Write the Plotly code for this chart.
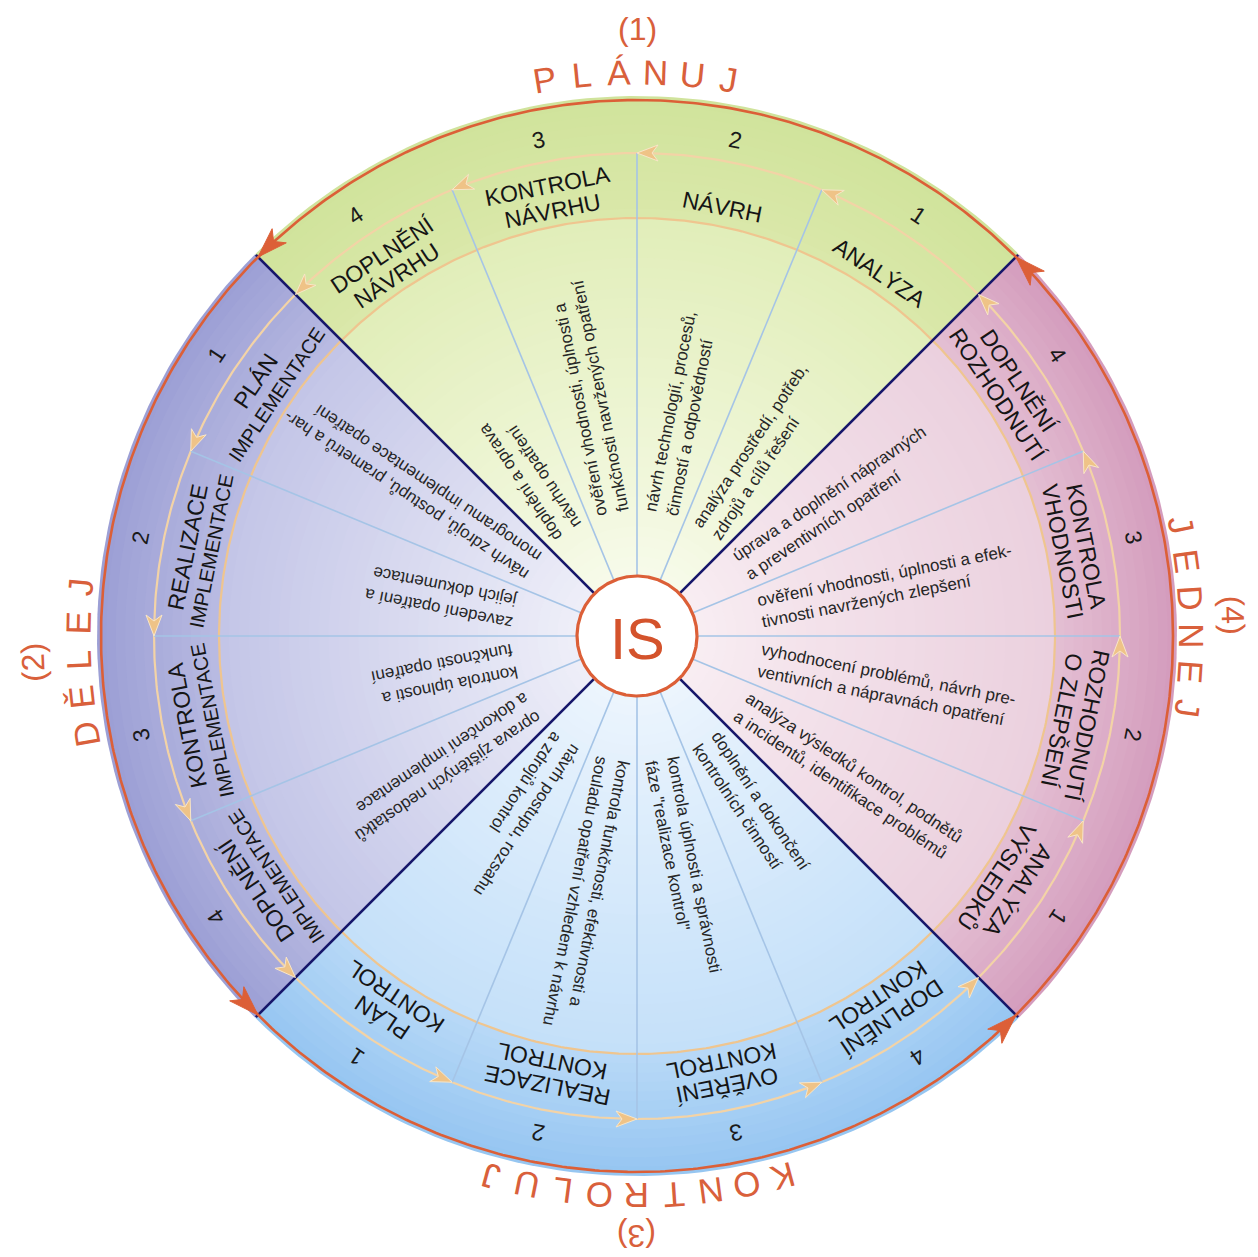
import numpy as np
import plotly.graph_objects as go

# ---------------- data ----------------
phase_names = ["PLÁNUJ", "DĚLEJ", "KONTROLUJ", "JEDNEJ"]
phase_numbers = ["(1)", "(2)", "(3)", "(4)"]
step_numbers = ["1", "2", "3", "4"]
center_label = "IS"

plan_steps = [["ANALÝZA"], ["NÁVRH"], ["KONTROLA", "NÁVRHU"], ["DOPLNĚNÍ", "NÁVRHU"]]
do_steps = [["PLÁN", "IMPLEMENTACE"], ["REALIZACE", "IMPLEMENTACE"],
            ["KONTROLA", "IMPLEMENTACE"], ["DOPLNĚNÍ", "IMPLEMENTACE"]]
check_steps = [["PLÁN", "KONTROL"], ["REALIZACE", "KONTROL"],
               ["OVĚŘENÍ", "KONTROL"], ["DOPLNĚNÍ", "KONTROL"]]
act_steps = [["ANALÝZA", "VÝSLEDKŮ"], ["ROZHODNUTÍ", "O ZLEPŠENÍ"],
             ["KONTROLA", "VHODNOSTI"], ["DOPLNĚNÍ", "ROZHODNUTÍ"]]

plan_desc = [["analýza prostředí, potřeb,", "zdrojů a cílů řešení"],
             ["návrh technologií, procesů,", "činností a odpovědností"],
             ["ověření vhodnosti, úplnosti a", "funkčnosti navržených opatření"],
             ["doplnění a oprava", "návrhu opatření"]]
do_desc = [["návrh zdrojů, postupů, prametrů a har-", "monogramu implementace opatření"],
           ["zavedení opatření a", "jejich dokumentace"],
           ["kontrola úplnosti a", "funkčnosti opatření"],
           ["oprava zjištěných nedostatků", "a dokončení implementace"]]
check_desc = [["návrh postupu, rozsahu", "a zdrojů kontrol"],
              ["kontrola funkčnosti, efektivnosti a", "souladu opatření vzhledem k návrhu"],
              ["kontrola úplnosti a správnosti", "fáze \"realizace kontrol\""],
              ["doplnění a dokončení", "kontrolních činností"]]
act_desc = [["analýza výsledků kontrol, podnětů", "a incidentů, identifikace problémů"],
            ["vyhodnocení problémů, návrh pre-", "ventivních a nápravnách opatření"],
            ["ověření vhodnosti, úplnosti a efek-", "tivnosti navržených zlepšení"],
            ["úprava a doplnění nápravných", "a preventivních opatření"]]

steps = [plan_steps, do_steps, check_steps, act_steps]
descs = [plan_desc, do_desc, check_desc, act_desc]

# ---------------- geometry / style ----------------
W, H = 1258, 1257
CX, CY = 637, 636
R_OUT, R_ARROW, R_INNER, R_IS = 536, 483, 418, 60
R_NUM = 506
R_STEP1, R_STEP2 = 437, 446
R_DESC = 125
R_PHASE = [564, 559, 560, 555]
R_PHASE_NUM = [607, 604, 600, 596]
PHASE_CENTER = [90, 182.5, 270, 2]
LETTER_ARC = 37
LS_STEP, LS_DESC = 25, 22.5
FS_STEP, FS_DESC, FS_NUM = 23, 17, 23
FS_STEP_LINE2 = [23, 20, 23, 23]
ORANGE = "#dc5f37"
PHASE_COL = "#d9603b"
NAVY = "#16166a"
LIGHTBLUE = "#a5c4e6"
TAN_OUT = "#f3d3a6"
TAN_IN = "#efc58f"
FONT = "Liberation Sans, Arial, sans-serif"

quad_stops = [
    [(0, "#fbfdf3"), (150, "#f1f7dc"), (417, "#e1eeb9"), (419, "#dae8aa"), (540, "#d0e39b")],
    [(0, "#f6f6fb"), (150, "#e3e4f4"), (417, "#c3c5e7"), (419, "#b9bbe2"), (540, "#9b9ed4")],
    [(0, "#f4f9fe"), (150, "#e1effc"), (417, "#c4e0f9"), (419, "#b8d9f7"), (540, "#95c5f1")],
    [(0, "#fbf4f7"), (150, "#f4e4ec"), (417, "#ebd0de"), (419, "#e4bfd3"), (540, "#d39bbc")],
]

# Arial / Liberation Sans advance widths (1/1000 em) used to centre rotated text
CHAR_W = {" ": 278, ",": 278, "-": 333, ".": 278, "\"": 355,
          "a": 556, "b": 556, "c": 500, "d": 556, "e": 556, "f": 278, "g": 556, "h": 556,
          "i": 222, "j": 222, "k": 500, "l": 222, "m": 833, "n": 556, "o": 556, "p": 556,
          "q": 556, "r": 333, "s": 500, "t": 278, "u": 556, "v": 500, "w": 722, "x": 500,
          "y": 500, "z": 500, "á": 556, "é": 556, "í": 278, "ý": 500, "ú": 556, "ů": 556,
          "č": 500, "ř": 333, "š": 500, "ž": 500, "ě": 556, "ň": 556, "ť": 278, "ď": 556}


def text_width(s, size):
    return sum(CHAR_W.get(c, 556) for c in s) / 1000.0 * size


def hex2rgb(h):
    return np.array([int(h[i:i + 2], 16) for i in (1, 3, 5)], float)


def color_at(stops, r):
    rs = [s[0] for s in stops]
    cs = np.array([hex2rgb(s[1]) for s in stops])
    c = [np.interp(r, rs, cs[:, k]) for k in range(3)]
    return "rgb(%d,%d,%d)" % tuple(int(round(v)) for v in c)


def pol(r, th):
    t = np.radians(th)
    return r * np.cos(t), r * np.sin(t)


def norm(a):
    return (a + 180.0) % 360.0 - 180.0


fig = go.Figure()

# ---- quadrant fills (radial gradient via nested sectors) ----
edges = np.concatenate([np.linspace(R_OUT + 4, R_INNER, 14), np.linspace(R_INNER, 0, 43)[1:]])
for q in range(4):
    a0 = 45 + 90 * q
    t = np.linspace(a0, a0 + 90, 60)
    for k in range(len(edges) - 1):
        ro, ri = edges[k], edges[k + 1]
        xs, ys = pol(ro, t)
        fig.add_trace(go.Scatter(
            x=np.concatenate([[0], xs, [0]]), y=np.concatenate([[0], ys, [0]]),
            mode="lines", fill="toself", fillcolor=color_at(quad_stops[q], (ro + ri) / 2),
            line=dict(width=0), hoverinfo="skip", showlegend=False))

# ---- circles ----
tc = np.linspace(0, 360, 721)
for r, col, wd in [(R_INNER, TAN_IN, 2.2), (R_ARROW, TAN_OUT, 2.2)]:
    xs, ys = pol(r, tc)
    fig.add_trace(go.Scatter(x=xs, y=ys, mode="lines", line=dict(color=col, width=wd),
                             hoverinfo="skip", showlegend=False))

# ---- radial lines ----
lbx, lby, nbx, nby = [], [], [], []
for k in range(16):
    th = 45 + 22.5 * k
    if k % 4 == 0:
        x0, y0 = pol(R_IS, th)
        x1, y1 = pol(R_OUT + 3, th)
        nbx += [x0, x1, None]
        nby += [y0, y1, None]
    else:
        x0, y0 = pol(R_IS, th)
        x1, y1 = pol(R_ARROW, th)
        lbx += [x0, x1, None]
        lby += [y0, y1, None]
fig.add_trace(go.Scatter(x=lbx, y=lby, mode="lines", line=dict(color=LIGHTBLUE, width=1.6),
                         hoverinfo="skip", showlegend=False))
fig.add_trace(go.Scatter(x=nbx, y=nby, mode="lines", line=dict(color=NAVY, width=2.6),
                         hoverinfo="skip", showlegend=False))


def arrow_head(r, th, L, w, notch):
    t = np.radians(th)
    tip = np.array([r * np.cos(t), r * np.sin(t)])
    tg = np.array([-np.sin(t), np.cos(t)])
    nm = np.array([np.cos(t), np.sin(t)])
    pts = [tip, tip - L * tg + w * nm, tip - (L - notch) * tg, tip - L * tg - w * nm, tip]
    return [p[0] for p in pts], [p[1] for p in pts]


# ---- small tan arrows on arrow circle ----
for k in range(16):
    th = 45 + 22.5 * k
    xs, ys = arrow_head(R_ARROW, th, 21, 8, 6)
    fig.add_trace(go.Scatter(x=xs, y=ys, mode="lines", fill="toself", fillcolor="#efc387",
                             line=dict(color="#f8e6c8", width=1), hoverinfo="skip", showlegend=False))

# ---- outer orange circle and arrows ----
xs, ys = pol(R_OUT, tc)
fig.add_trace(go.Scatter(x=xs, y=ys, mode="lines", line=dict(color=ORANGE, width=2.6),
                         hoverinfo="skip", showlegend=False))
for q in range(4):
    th = 45 + 90 * q
    xs, ys = arrow_head(R_OUT, th, 30, 10, 8)
    fig.add_trace(go.Scatter(x=xs, y=ys, mode="lines", fill="toself", fillcolor=ORANGE,
                             line=dict(color=ORANGE, width=1), hoverinfo="skip", showlegend=False))

# ---- IS circle ----
xs, ys = pol(R_IS, tc)
fig.add_trace(go.Scatter(x=xs, y=ys, mode="lines", fill="toself", fillcolor="white",
                         line=dict(color=ORANGE, width=3.2), hoverinfo="skip", showlegend=False))

ann = []
ann.append(dict(x=0, y=-2, text=center_label, showarrow=False, xanchor="center", yanchor="middle",
                font=dict(size=58, color="#d4532c", family=FONT)))

for q in range(4):
    for s in range(4):
        th = 45 + 90 * q + 11.25 + 22.5 * s
        t = np.radians(th)
        # number
        x, y = pol(R_NUM, th)
        ann.append(dict(x=x, y=y, text=step_numbers[s], showarrow=False, xanchor="center",
                        yanchor="middle", textangle=norm(90 - th),
                        font=dict(size=FS_NUM, color="#1a1a1a", family=FONT)))
        # step label lines
        lines = steps[q][s]
        n = len(lines)
        rc = R_STEP1 if n == 1 else R_STEP2
        for i, ln in enumerate(lines):
            r = rc - (i - (n - 1) / 2) * LS_STEP
            x, y = pol(r, th)
            fs = FS_STEP if i == 0 else FS_STEP_LINE2[q]
            ann.append(dict(x=x, y=y, text=ln, showarrow=False, xanchor="center", yanchor="middle",
                            textangle=norm(90 - th),
                            font=dict(size=fs, color="#151515", family=FONT)))
        # descriptions: each line starts at R_DESC and runs outward
        dl = descs[q][s]
        n = len(dl)
        for i, ln in enumerate(dl):
            off = (i - (n - 1) / 2) * LS_DESC
            rc = R_DESC + text_width(ln, FS_DESC) / 2
            x = rc * np.cos(t) + off * np.sin(t)
            y = rc * np.sin(t) - off * np.cos(t)
            ann.append(dict(x=x, y=y, text=ln, showarrow=False, xanchor="center", yanchor="middle",
                            textangle=norm(-th),
                            font=dict(size=FS_DESC, color="#262626", family=FONT)))

# ---- phase names along the outer arc ----
for q in range(4):
    word = phase_names[q]
    n = len(word)
    d = np.degrees(LETTER_ARC / R_PHASE[q])
    for k, ch in enumerate(word):
        th = PHASE_CENTER[q] + ((n - 1) / 2 - k) * d
        x, y = pol(R_PHASE[q], th)
        ann.append(dict(x=x, y=y, text=ch, showarrow=False, xanchor="center", yanchor="middle",
                        textangle=norm(90 - th), font=dict(size=35, color=PHASE_COL, family=FONT)))
    th = PHASE_CENTER[q]
    x, y = pol(R_PHASE_NUM[q], th)
    ann.append(dict(x=x, y=y, text=phase_numbers[q], showarrow=False, xanchor="center",
                    yanchor="middle", textangle=norm(90 - th),
                    font=dict(size=32, color=PHASE_COL, family=FONT)))

fig.update_layout(
    width=W, height=H, autosize=False,
    margin=dict(l=0, r=0, t=0, b=0, pad=0),
    paper_bgcolor="white", plot_bgcolor="white",
    xaxis=dict(range=[-CX, W - CX], visible=False, fixedrange=True),
    yaxis=dict(range=[-(H - CY), CY], visible=False, fixedrange=True),
    annotations=ann, showlegend=False,
    font=dict(family=FONT),
)

fig.write_html("out.html", include_plotlyjs=True, full_html=True,
               config={"displayModeBar": False},
               post_script="document.body.style.margin='0px';document.body.style.overflow='hidden';")
